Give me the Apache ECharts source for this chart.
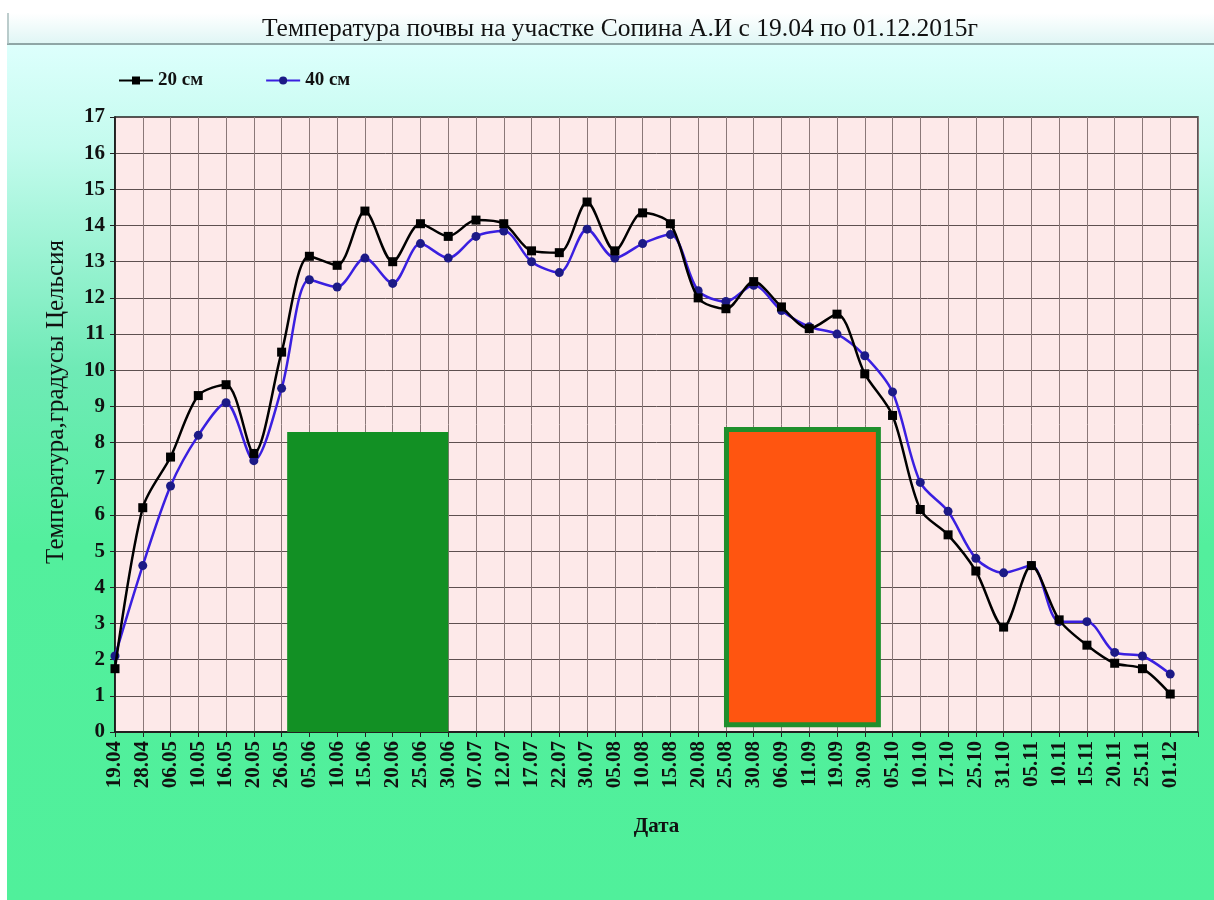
<!DOCTYPE html>
<html>
<head>
<meta charset="utf-8">
<script src="https://cdn.jsdelivr.net/npm/echarts@6/dist/echarts.min.js"></script>
<style>
html,body{margin:0;padding:0;background:#ffffff;}
#chart{width:1214px;height:900px;}
</style>
</head>
<body>
<div id="chart"></div>
<script>
const categories = ['19.04','28.04','06.05','10.05','16.05','20.05','26.05','05.06','10.06','15.06','20.06','25.06','30.06','07.07','12.07','17.07','22.07','30.07','05.08','10.08','15.08','20.08','25.08','30.08','06.09','11.09','19.09','30.09','05.10','10.10','17.10','25.10','31.10','05.11','10.11','15.11','20.11','25.11','01.12'];
const depth20 = [1.75,6.2,7.6,9.3,9.6,7.7,10.5,13.15,12.9,14.4,13.0,14.05,13.7,14.15,14.05,13.3,13.25,14.65,13.3,14.35,14.05,12.0,11.7,12.45,11.75,11.15,11.55,9.9,8.75,6.15,5.45,4.45,2.9,4.6,3.1,2.4,1.9,1.75,1.05];
const depth40 = [2.1,4.6,6.8,8.2,9.1,7.5,9.5,12.5,12.3,13.1,12.4,13.5,13.1,13.7,13.85,13.0,12.7,13.9,13.1,13.5,13.75,12.2,11.9,12.35,11.65,11.2,11.0,10.4,9.4,6.9,6.1,4.8,4.4,4.6,3.05,3.05,2.2,2.1,1.6];
const seriesNames = ['20 см','40 см'];
const yTicks = {min:0, max:17, interval:1};
// annotation boxes: [xStart, xEnd] in category index units, [yBottom, yTop] in degrees
const greenBox = {x:[6.2, 12.0], y:[0, 8.29]};
const orangeBox = {x:[22.02, 27.49], y:[0.2, 8.36]};

const chart = echarts.init(document.getElementById('chart'));
const serif = '"Liberation Serif", "DejaVu Serif", serif';
const axisData = categories.concat(['']);

chart.setOption({
  animation: false,
  graphic: [
    {type:'rect', z:-100, shape:{x:7,y:13,width:1207,height:887},
     style:{fill:new echarts.graphic.LinearGradient(0,0,0,1,[
       {offset:0,color:'#e6fffd'},{offset:0.04,color:'#dcfffc'},{offset:0.15,color:'#c4fbee'},
       {offset:0.40,color:'#6feab6'},{offset:0.60,color:'#53ef9d'},{offset:1,color:'#50f09b'}])}},
    {type:'rect', z:-99, shape:{x:7,y:13,width:1207,height:31},
     style:{fill:new echarts.graphic.LinearGradient(0,0,0,1,[{offset:0,color:'#ffffff'},{offset:1,color:'#dff6f5'}])}},
    {type:'line', z:-98, shape:{x1:7,y1:44,x2:1214,y2:44}, style:{stroke:'#8fa6a6',lineWidth:2}},
    {type:'line', z:-98, shape:{x1:8,y1:13,x2:8,y2:44}, style:{stroke:'#a9bcbc',lineWidth:1.5}},
    {type:'text', z:10, x:620, y:29, style:{text:'Температура почвы на участке Сопина А.И с 19.04 по 01.12.2015г',
      font:'25.5px '+serif, fill:'#111', textAlign:'center', textVerticalAlign:'middle'}}
  ],
  legend: {
    left: 113, top: 66, itemWidth: 34, itemHeight: 10, itemGap: 62,
    textStyle: {fontFamily: serif, fontSize: 19, fontWeight: 'bold', color: '#111'},
    data: seriesNames
  },
  grid: {left:115, top:117, right:16, bottom:168, show:true, backgroundColor:'#fde9e9', borderColor:'#222', borderWidth:1.5},
  xAxis: [{
    type:'category', data: axisData, boundaryGap:false,
    name:'Дата', nameLocation:'middle', nameGap:84,
    nameTextStyle:{fontFamily:serif, fontSize:21, fontWeight:'bold', color:'#111'},
    axisLine:{lineStyle:{color:'#111', width:1.5}},
    axisTick:{show:true, length:5, lineStyle:{color:'#222'}},
    axisLabel:{rotate:90, interval:0, fontFamily:serif, fontSize:21, fontWeight:'bold', color:'#111', margin:9},
    splitLine:{show:true, lineStyle:{color:'#8a7878', width:1}}
  },{
    type:'value', min:0, max:39, show:false
  }],
  yAxis: {
    type:'value', min:yTicks.min, max:yTicks.max, interval:yTicks.interval,
    name:'Температура,градусы Цельсия', nameLocation:'middle', nameGap:46,
    nameTextStyle:{fontFamily:serif, fontSize:25, fontWeight:'normal', color:'#111', padding:[0,0,0,45]},
    axisLine:{show:true, lineStyle:{color:'#111', width:1.5}},
    axisTick:{show:true, length:5, lineStyle:{color:'#222'}},
    axisLabel:{fontFamily:serif, fontSize:21, fontWeight:'bold', color:'#111', margin:10},
    splitLine:{show:true, lineStyle:{color:'#5e5050', width:1}}
  },
  series: [
    {name:'annot', type:'line', xAxisIndex:1, data:[], silent:true,
     markArea:{silent:true, data:[
       [{coord:[greenBox.x[0], greenBox.y[1]], itemStyle:{color:'#129024', borderWidth:0}},
        {coord:[greenBox.x[1], greenBox.y[0]]}],
       [{coord:[orangeBox.x[0], orangeBox.y[1]], itemStyle:{color:'#ff5510', borderColor:'#1f8f2c', borderWidth:5}},
        {coord:[orangeBox.x[1], orangeBox.y[0]]}]
     ]}},
    {name:seriesNames[0], type:'line', data:depth20, smooth:0.3, symbol:'rect', symbolSize:9,
     lineStyle:{color:'#000', width:2.5}, itemStyle:{color:'#000'}, z:4},
    {name:seriesNames[1], type:'line', data:depth40, smooth:0.3, symbol:'circle', symbolSize:9,
     lineStyle:{color:'#3a1fe0', width:2.5}, itemStyle:{color:'#1c1a86'}, z:3}
  ]
});
</script>
</body>
</html>
